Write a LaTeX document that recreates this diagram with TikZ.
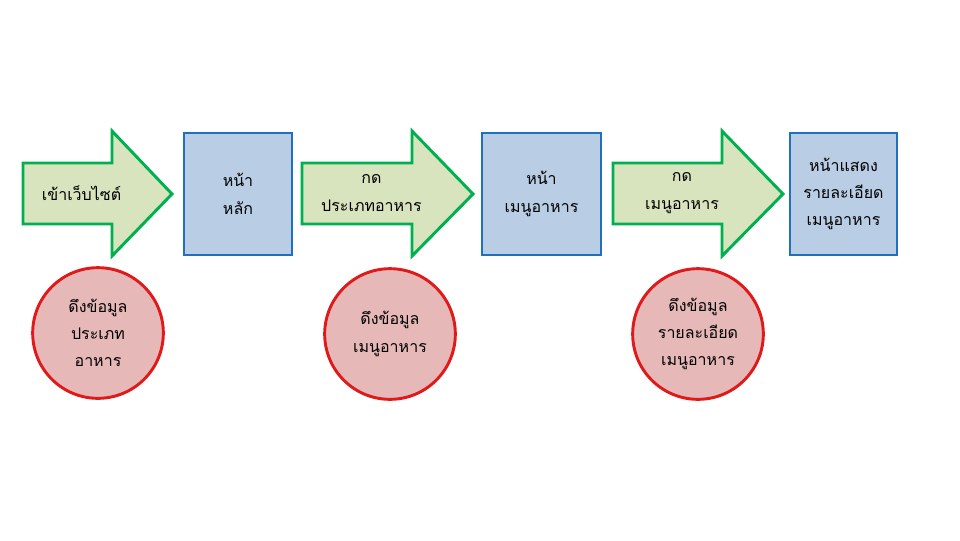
\documentclass[tikz,border=0pt]{standalone}
\usepackage{fontspec}
\newfontfamily\thaifont[Script=Thai]{Loma}
\definecolor{arrowfill}{HTML}{D7E4BD}
\definecolor{arrowline}{HTML}{00B050}
\definecolor{boxfill}{HTML}{B9CDE5}
\definecolor{boxline}{HTML}{1F70BE}
\definecolor{dotfill}{HTML}{E6B9B8}
\definecolor{dotline}{HTML}{E01A1A}
\tikzset{
  label text/.style={align=center, font={\thaifont\fontsize{12}{20.5}\selectfont}, text=black, inner sep=0pt},
  flow arrow/.style={fill=arrowfill, draw=arrowline, line width=2.2pt, line join=miter},
  pagebox/.style={rectangle, fill=boxfill, draw=boxline, line width=2.2pt, label text},
  fetchdot/.style={circle, fill=dotfill, draw=dotline, line width=2.2pt, minimum size=98pt, label text},
}
% #1 left end, #2 start of head, #3 tip, #4 node name, #5 text
\newcommand{\flowarrow}[5]{%
  \draw[flow arrow] (#1,163) -- (#2,163) -- (#2,131) -- (#3,194) -- (#2,256) -- (#2,224) -- (#1,224) -- cycle;
  \node[label text] (#4) at ({(#1+#3)/2-16},193) {#5};
}
\begin{document}
\begin{tikzpicture}[x=0.75pt, y=-0.75pt]
  \useasboundingbox (0,0) rectangle (960,540);

  % steps the visitor takes
  \flowarrow{23}{112}{172}{enter}{เข้าเว็บไซต์}
  \flowarrow{302}{412}{473}{pickcat}{กด\\ประเภทอาหาร}
  \flowarrow{613}{722}{783}{pickmenu}{กด\\เมนูอาหาร}

  % pages shown
  \node[pagebox, minimum width=81pt, minimum height=91.5pt] (home) at (238,194) {หน้า\\หลัก};
  \node[pagebox, minimum width=89.25pt, minimum height=91.5pt] (menu) at (541.5,194) {หน้า\\เมนูอาหาร};
  \node[pagebox, minimum width=80.25pt, minimum height=91.5pt] (detail) at (843.5,194) {หน้าแสดง\\รายละเอียด\\เมนูอาหาร};

  % data fetched at each page
  \node[fetchdot] (getcat) at (98,333) {ดึงข้อมูล\\ประเภท\\อาหาร};
  \node[fetchdot] (getmenu) at (390,334) {ดึงข้อมูล\\เมนูอาหาร};
  \node[fetchdot] (getdetail) at (698,334) {ดึงข้อมูล\\รายละเอียด\\เมนูอาหาร};
\end{tikzpicture}
\end{document}
